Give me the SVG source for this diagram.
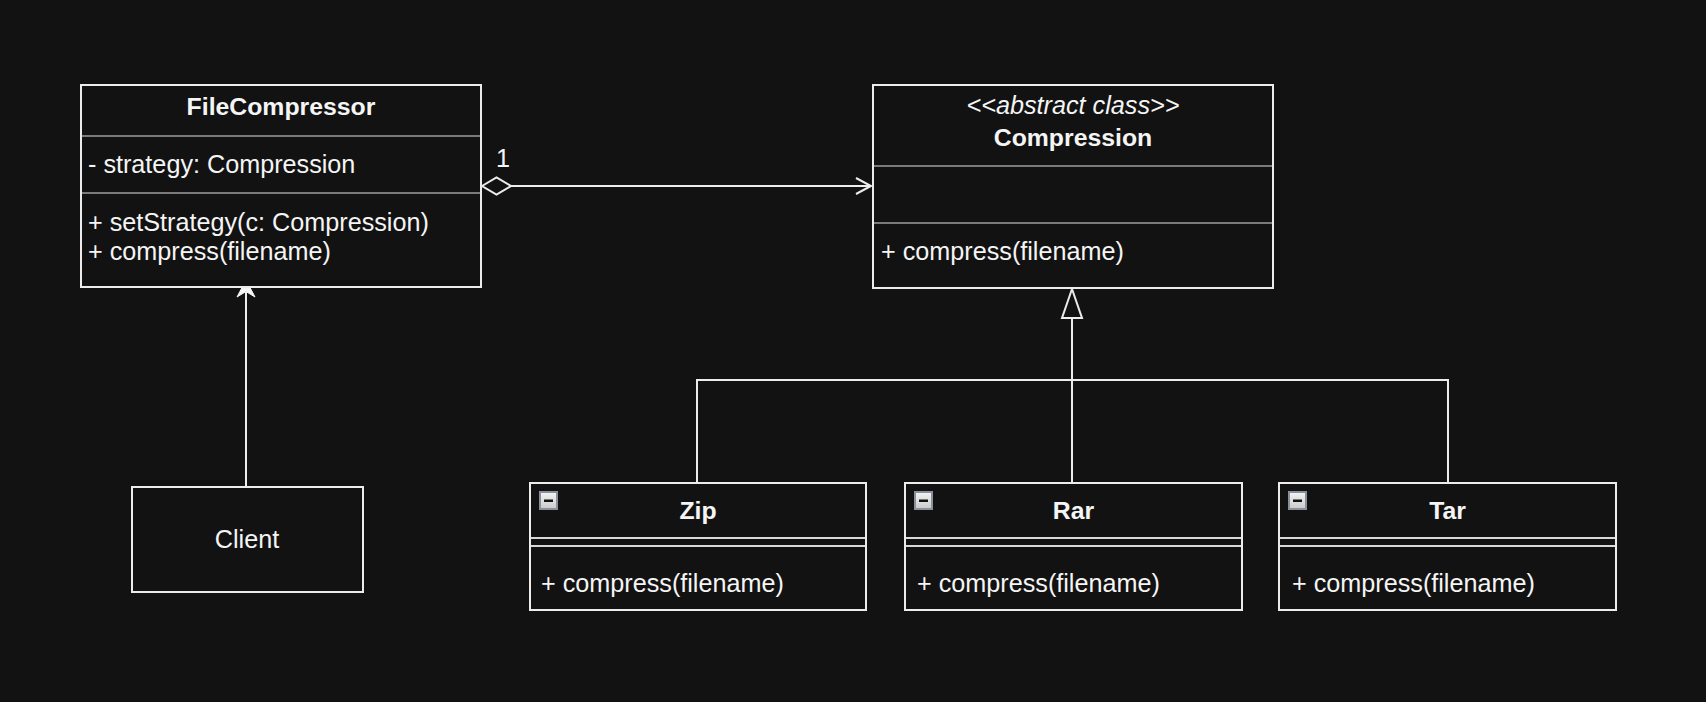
<svg xmlns="http://www.w3.org/2000/svg" width="1706" height="702" viewBox="0 0 1706 702">
<defs>
<style>
.box{fill:#121212;stroke:#ececec;stroke-width:2}
.div{stroke:#7a7a7a;stroke-width:2}
.div2{stroke:#d8d8d8;stroke-width:2}
.t{font-family:"Liberation Sans",Arial,sans-serif;font-size:25.2px;fill:#f5f5f5}
.b{font-weight:bold;text-anchor:middle;font-size:24.8px}
.c{text-anchor:middle}
.i{font-style:italic}
.ln{fill:none;stroke:#ececec;stroke-width:2}
</style>
<linearGradient id="ig" x1="0" y1="0" x2="0" y2="1">
<stop offset="0" stop-color="#f4f4f4"/>
<stop offset="1" stop-color="#c9c9c9"/>
</linearGradient>
<g id="icon">
<rect x="0" y="0" width="17" height="17" fill="url(#ig)" stroke="#8a8f9c" stroke-width="2"/>
<rect x="4" y="7.5" width="9" height="2.5" fill="#111"/>
</g>
</defs>
<rect width="1706" height="702" fill="#121212"/>

<g id="connectors">
<line class="ln" x1="510" y1="186" x2="871" y2="186"/>
<polygon points="482,186 496.5,177.5 511,186 496.5,194.5" fill="#121212" stroke="#ececec" stroke-width="2"/>
<polyline class="ln" points="856,178 871,186 856,194"/>
<text class="t c" x="503" y="167">1</text>

<line class="ln" x1="246" y1="487" x2="246" y2="292"/>
<polygon points="246,280 255,297 246,291.5 237,297" fill="#f5f5f5" stroke="#f5f5f5" stroke-width="1"/>

<polyline class="ln" points="697,483 697,380 1448,380 1448,483"/>
<line class="ln" x1="1072" y1="483" x2="1072" y2="318"/>
<polygon points="1072,289 1082,318 1062,318" fill="#121212" stroke="#ececec" stroke-width="2"/>
</g>

<g id="FileCompressor">
<rect class="box" x="81" y="85" width="400" height="202"/>
<line class="div" x1="82" y1="136" x2="480" y2="136"/>
<line class="div" x1="82" y1="193" x2="480" y2="193"/>
<text class="t b" x="281" y="115">FileCompressor</text>
<text class="t" x="88" y="173">- strategy: Compression</text>
<text class="t" x="88" y="231">+ setStrategy(c: Compression)</text>
<text class="t" x="88" y="260">+ compress(filename)</text>
</g>

<g id="Compression">
<rect class="box" x="873" y="85" width="400" height="203"/>
<line class="div" x1="874" y1="166" x2="1272" y2="166"/>
<line class="div" x1="874" y1="223" x2="1272" y2="223"/>
<text class="t c i" x="1073" y="114">&lt;&lt;abstract class&gt;&gt;</text>
<text class="t b" x="1073" y="146">Compression</text>
<text class="t" x="881" y="260">+ compress(filename)</text>
</g>

<g id="Client">
<rect class="box" x="132" y="487" width="231" height="105"/>
<text class="t c" x="247" y="548">Client</text>
</g>

<g id="Zip">
<rect class="box" x="530" y="483" width="336" height="127"/>
<line class="div2" x1="531" y1="538" x2="865" y2="538"/>
<line class="div2" x1="531" y1="546" x2="865" y2="546"/>
<use href="#icon" x="540" y="492"/>
<text class="t b" x="698" y="519">Zip</text>
<text class="t" x="541" y="592">+ compress(filename)</text>
</g>

<g id="Rar">
<rect class="box" x="905" y="483" width="337" height="127"/>
<line class="div2" x1="906" y1="538" x2="1241" y2="538"/>
<line class="div2" x1="906" y1="546" x2="1241" y2="546"/>
<use href="#icon" x="915" y="492"/>
<text class="t b" x="1073.5" y="519">Rar</text>
<text class="t" x="917" y="592">+ compress(filename)</text>
</g>

<g id="Tar">
<rect class="box" x="1279" y="483" width="337" height="127"/>
<line class="div2" x1="1280" y1="538" x2="1615" y2="538"/>
<line class="div2" x1="1280" y1="546" x2="1615" y2="546"/>
<use href="#icon" x="1289" y="492"/>
<text class="t b" x="1447.5" y="519">Tar</text>
<text class="t" x="1292" y="592">+ compress(filename)</text>
</g>
</svg>
